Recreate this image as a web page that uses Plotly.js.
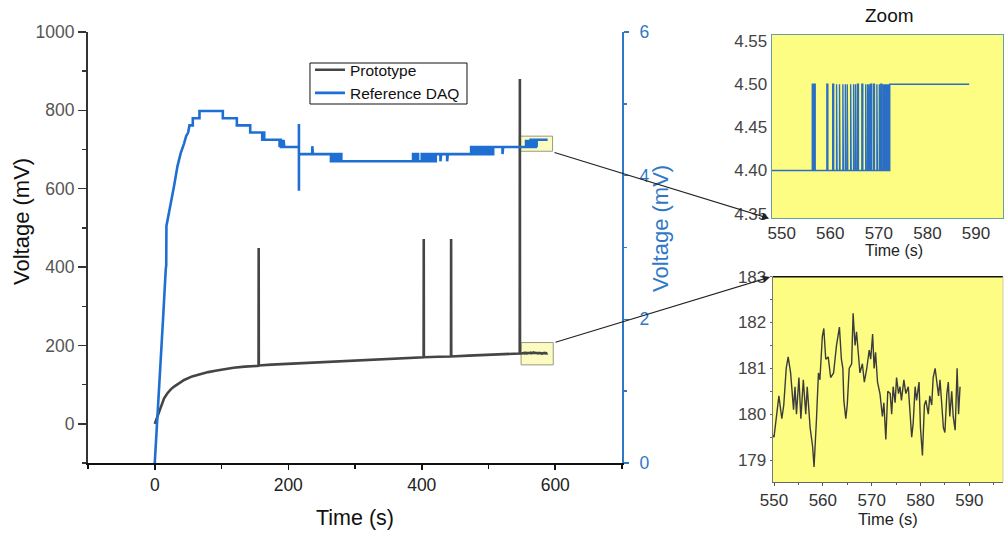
<!DOCTYPE html>
<html>
<head>
<meta charset="utf-8">
<script src="https://cdn.plot.ly/plotly-3.0.1.min.js"></script>
<style>html,body{margin:0;padding:0;background:#fff;}#chart{width:1007px;height:536px;}</style>
</head>
<body>
<div id="chart"></div>
<script>
// ---- Data ----
// Prototype (left axis, mV): [time s, voltage mV]
var prototypePoints = [
  [0,0],[2,10],[4,19],[6.5,31],[9,44],[14,65],[19,78],[24,88],[29,95],[36,104],[44,112],[56,121],
  [69,127],[80,132],[93,136],[105,140],[118,143],[135,146],[155.5,148],[155.7,449],[155.9,149],
  [175,151],[200,153],[230,155],[260,158],[292,161],[320,163],[350,165],[380,168],
  [402.8,170],[403,472],[403.2,170],[425,171],[443.8,172],[444,472],[444.2,172],
  [470,174],[500,176],[525,178],[546.8,179.5],[547,880],[547.2,179.8],
  [550,179.5],[550.5,180.0],[551,180.4],[551.6,179.9],[552,180.2],[552.5,181.0],[552.9,181.25],[553.4,180.9],
  [554,180.1],[554.3,180.6],[554.6,180.0],[555.1,180.8],[555.5,179.9],[556,180.75],[556.5,180.0],[556.8,180.6],
  [557.4,179.7],[557.9,179.3],[558.2,178.85],[558.7,179.9],[559.1,180.9],[559.4,180.75],[559.9,181.7],[560.2,181.87],
  [560.6,181.2],[561.1,181.25],[561.6,180.8],[562.2,180.9],[562.5,181.2],[562.8,181.5],[563.4,181.9],[563.8,181.2],
  [564.1,181.0],[564.3,180.3],[564.7,179.9],[565,180.2],[565.4,181.0],[565.9,181.1],[566.2,182.2],[566.6,181.5],
  [566.9,181.8],[567.3,181.25],[567.6,180.9],[568.1,181.1],[568.5,180.7],[569,181.0],[569.5,181.4],[569.8,181.2],
  [570.2,181.75],[570.5,181.0],[570.8,181.35],[571.2,180.7],[571.7,180.45],[572.2,179.95],[572.5,180.25],[572.9,179.45],
  [573.3,180.5],[573.8,180.45],[574.1,180.0],[574.4,180.6],[574.8,180.25],[575.1,180.8],[575.5,180.45],[575.8,180.6],
  [576.1,180.3],[576.6,180.75],[577,180.45],[577.5,180.6],[577.9,179.9],[578.2,179.5],[578.5,179.8],[578.9,180.6],
  [579.2,180.3],[579.7,180.7],[580,179.7],[580.4,179.1],[580.8,180.2],[581.1,180.3],[581.6,180.0],[581.9,180.4],
  [582.3,180.2],[582.6,180.8],[583,181.0],[583.3,180.75],[583.7,180.4],[584,180.75],[584.3,180.3],[584.7,179.7],
  [585,179.6],[585.4,180.45],[585.7,180.7],[586,179.95],[586.4,180.5],[586.7,179.95],[587.1,179.65],[587.3,180.45],
  [587.5,181.0],[587.8,180.0],[588.1,180.6]
];

// Reference DAQ (right axis, mV): [time s, voltage mV]
var referenceDaqPoints = [
  [0,0],[4,0.6],[8,1.3],[12.4,2.0],[16.5,2.7],[17.2,2.75],[17.5,3.3],[21.4,3.48],[24.9,3.66],[28.8,3.85],
  [34,4.13],[38.8,4.31],[44,4.45],[47,4.55],[50,4.6],[52,4.7],[57,4.7],[57,4.8],[67,4.8],[67,4.9],
  [102,4.9],[102,4.8],[123,4.8],[123,4.7],[143,4.7],[143,4.6],[161,4.6],[161,4.5],[162.5,4.5],[162.5,4.6],
  [164,4.6],[164,4.5],[187,4.5],
  [187,4.4],[188,4.4],[188,4.5],[189,4.5],[189,4.4],[190.5,4.4],[190.5,4.5],[191.5,4.5],[191.5,4.4],
  [193,4.4],[193,4.5],[194,4.5],[194,4.4],
  [216,4.4],[216,4.72],[216,3.79],[216,4.3],
  [236,4.3],[236,4.41],[237,4.41],[237,4.3],
  [264,4.3],[264,4.2],[265.5,4.2],[265.5,4.3],[267,4.3],[267,4.2],[268.5,4.2],[268.5,4.3],[270,4.3],[270,4.2],
  [271.5,4.2],[271.5,4.3],[273,4.3],[273,4.2],[275,4.2],[275,4.3],[276.5,4.3],[276.5,4.2],[278,4.2],[278,4.3],
  [279.5,4.3],[279.5,4.2],
  [387,4.2],[387,4.3],[388.5,4.3],[388.5,4.2],[390,4.2],[390,4.3],[391.5,4.3],[391.5,4.2],[393,4.2],[393,4.3],
  [394.5,4.3],[394.5,4.2],
  [400,4.2],[400,4.3],[401.5,4.3],[401.5,4.2],[403,4.2],[403,4.3],[404.5,4.3],[404.5,4.2],[406,4.2],[406,4.3],
  [407.5,4.3],[407.5,4.2],[409,4.2],[409,4.3],[410.5,4.3],[410.5,4.2],[412,4.2],[412,4.3],[413.5,4.3],[413.5,4.2],
  [415,4.2],[415,4.3],[416.5,4.3],[416.5,4.2],[418,4.2],[418,4.3],[419.5,4.3],[419.5,4.2],[421,4.2],[421,4.3],
  [428,4.3],[428,4.2],[429,4.2],[429,4.3],[438,4.3],[438,4.2],[439,4.2],[439,4.3],
  [474,4.3],[474,4.4],[475.5,4.4],[475.5,4.3],[477,4.3],[477,4.4],[478.5,4.4],[478.5,4.3],[480,4.3],[480,4.4],
  [481.5,4.4],[481.5,4.3],[483,4.3],[483,4.4],[484.5,4.4],[484.5,4.3],[486,4.3],[486,4.4],[487.5,4.4],[487.5,4.3],
  [489,4.3],[489,4.4],[490.5,4.4],[490.5,4.3],[492,4.3],[492,4.4],[493.5,4.4],[493.5,4.3],[495,4.3],[495,4.4],
  [496.5,4.4],[496.5,4.3],[498,4.3],[498,4.4],[499.5,4.4],[499.5,4.3],[501,4.3],[501,4.4],[502.5,4.4],[502.5,4.3],
  [504,4.3],[504,4.4],[505.5,4.4],[505.5,4.3],[507,4.3],[507,4.4],
  [521,4.4],[521,4.3],[522,4.3],[522,4.4],
  [556.3,4.4],[556.3,4.5],[556.5,4.5],[556.5,4.4],[556.7,4.4],[556.7,4.5],[556.9,4.5],[556.9,4.4],
  [559.3,4.4],[559.3,4.5],[559.5,4.5],[559.5,4.4],[560.5,4.4],[560.5,4.5],[560.7,4.5],[560.7,4.4],
  [561.3,4.4],[561.3,4.5],[561.4,4.5],[561.4,4.4],[561.9,4.4],[561.9,4.5],[562.0,4.5],[562.0,4.4],
  [562.6,4.4],[562.6,4.5],[562.7,4.5],[562.7,4.4],[563.1,4.4],[563.1,4.5],[563.2,4.5],[563.2,4.4],
  [563.5,4.4],[563.5,4.5],[563.6,4.5],[563.6,4.4],[564.2,4.4],[564.2,4.5],[564.3,4.5],[564.3,4.4],
  [564.8,4.4],[564.8,4.5],[564.9,4.5],[564.9,4.4],[565.2,4.4],[565.2,4.5],[565.3,4.5],[565.3,4.4],
  [565.6,4.4],[565.6,4.5],[565.8,4.5],[565.8,4.4],[566.5,4.4],[566.5,4.5],[566.7,4.5],[566.7,4.4],
  [567.3,4.4],[567.3,4.5],[567.4,4.5],[567.4,4.4],[567.7,4.4],[567.7,4.5],[567.8,4.5],[567.8,4.4],
  [568.0,4.4],[568.0,4.5],[568.1,4.5],[568.1,4.4],[568.3,4.4],[568.3,4.5],[568.5,4.5],[568.5,4.4],
  [568.9,4.4],[568.9,4.5],[569.1,4.5],[569.1,4.4],[569.6,4.4],[569.6,4.5],[569.7,4.5],[569.7,4.4],
  [570.1,4.4],[570.1,4.5],[570.2,4.5],[570.2,4.4],[570.4,4.4],[570.4,4.5],[570.6,4.5],[570.6,4.4],
  [570.9,4.4],[570.9,4.5],[571.0,4.5],[571.0,4.4],[571.15,4.4],[571.15,4.5],[571.25,4.5],[571.25,4.4],
  [571.4,4.4],[571.4,4.5],[571.5,4.5],[571.5,4.4],[571.6,4.4],[571.6,4.5],[571.7,4.5],[571.7,4.4],
  [571.8,4.4],[571.8,4.5],[571.9,4.5],[571.9,4.4],[572.0,4.4],[572.0,4.5],[572.1,4.5],[572.1,4.4],
  [572.25,4.4],[572.25,4.5],[588.6,4.5]
];

var seriesNames = ['Prototype', 'Reference DAQ'];
var axisTitles = ['Time (s)', 'Voltage (mV)', 'Voltage (mV)', 'Zoom'];
var mainXTicks = [0, 200, 400, 600];
var leftYTicks = [0, 200, 400, 600, 800, 1000];
var rightYTicks = [0, 2, 4, 6];
var zoomXTicks = [550, 560, 570, 580, 590];
var zoomDaqTicks = [4.35, 4.40, 4.45, 4.50, 4.55];
var zoomProtoTicks = [179, 180, 181, 182, 183];

// ---- Styling ----
var GRAY = '#454545', BLUE = '#1f6fd3', AXBLUE = '#2f78c6';
var FONT = 'Liberation Sans, Arial, Helvetica, sans-serif';
function xs(p){ return p.map(function(d){return d[0];}); }
function ys(p){ return p.map(function(d){return d[1];}); }

var traces = [
  {x: xs(prototypePoints), y: ys(prototypePoints), name: seriesNames[0], type:'scatter', mode:'lines',
   xaxis:'x', yaxis:'y', line:{color:GRAY, width:2.6}},
  {x: xs(referenceDaqPoints), y: ys(referenceDaqPoints), name: seriesNames[1], type:'scatter', mode:'lines',
   xaxis:'x', yaxis:'y2', line:{color:BLUE, width:2.6}},
  {x: xs(referenceDaqPoints), y: ys(referenceDaqPoints), showlegend:false, type:'scatter', mode:'lines',
   xaxis:'x3', yaxis:'y3', line:{color:'#2a6fc4', width:1.4}},
  {x: xs(prototypePoints), y: ys(prototypePoints), showlegend:false, type:'scatter', mode:'lines',
   xaxis:'x4', yaxis:'y4', line:{color:'#3c3c3c', width:1.4}}
];

// plot area spans x 88..1003, y 32..482
var layout = {
  width: 1007, height: 536,
  margin: {l: 88, r: 4, t: 32, b: 54},
  paper_bgcolor: '#ffffff', plot_bgcolor: 'rgba(0,0,0,0)',
  font: {family: FONT, size: 17, color: '#555'},
  showlegend: true,
  legend: {x: 0.2426, y: 0.953, xanchor: 'left', yanchor: 'top', bgcolor: 'rgba(0,0,0,0)',
           borderwidth: 0, font: {size: 15.5, color: '#111'}, tracegroupgap: 0},
  xaxis: {domain: [0, 0.5836], anchor: 'y', range: [-100, 700], tickvals: mainXTicks,
          ticks: 'outside', ticklen: 5, tickwidth: 1.5, tickcolor: '#111',
          showline: true, linecolor: '#111', linewidth: 2, showgrid: false, zeroline: false,
          minor: {tickvals: [-100, 100, 300, 500, 700], ticks: 'outside', ticklen: 4, tickcolor: '#111', showgrid: false},
          tickfont: {size: 17.5, color: '#222'},
          title: {text: axisTitles[0], font: {size: 21.5, color: '#111'}, standoff: 16}},
  yaxis: {domain: [0.0422, 1], anchor: 'x', range: [-100, 1000], tickvals: leftYTicks,
          ticks: 'outside', ticklen: 8, tickwidth: 1.5, tickcolor: '#333',
          showline: true, linecolor: '#333', linewidth: 2, showgrid: false, zeroline: false,
          minor: {tickvals: [-100, 100, 300, 500, 700, 900], ticks: 'outside', ticklen: 4, tickcolor: '#333', showgrid: false},
          tickfont: {size: 17.5, color: '#555'}},
  yaxis2: {overlaying: 'y', side: 'right', anchor: 'x', range: [0, 6], tickmode: 'array', tickvals: rightYTicks,
           ticktext: rightYTicks.map(function(v){ return '\u2009\u2009' + v; }),
           ticks: 'outside', ticklen: 5, tickwidth: 1.5, tickcolor: AXBLUE,
           showline: true, linecolor: AXBLUE, linewidth: 2, showgrid: false, zeroline: false,
           minor: {tickvals: [1, 3, 5], ticks: 'outside', ticklen: 3, tickcolor: AXBLUE, showgrid: false},
           tickfont: {size: 17.5, color: AXBLUE}},
  xaxis3: {domain: [0.7472, 1], anchor: 'y3', range: [547.94, 595.56], tickvals: zoomXTicks,
           ticks: '', showline: true, mirror: true, linecolor: '#6a9ea6', linewidth: 1, showgrid: false, zeroline: false,
           tickfont: {size: 17, color: '#333'}},
  yaxis3: {domain: [0.5867, 0.9933], anchor: 'x3', range: [4.345, 4.557], tickvals: zoomDaqTicks, tickformat: '.2f',
           ticks: '', showline: true, mirror: true, linecolor: '#6a9ea6', linewidth: 1, showgrid: false, zeroline: false,
           tickfont: {size: 17, color: '#444'}},
  xaxis4: {domain: [0.7483, 1], anchor: 'y4', range: [549.73, 596.9], tickvals: zoomXTicks,
           ticks: 'outside', ticklen: 3, tickcolor: '#555', showline: true, linecolor: '#666', linewidth: 1,
           showgrid: false, zeroline: false,
           minor: {tickvals: [555, 565, 575, 585, 595], ticks: 'outside', ticklen: 2, tickcolor: '#555', showgrid: false},
           tickfont: {size: 17, color: '#333'},
           title: {text: axisTitles[0], font: {size: 16.5, color: '#222'}, standoff: 4}},
  yaxis4: {domain: [0, 0.4562], anchor: 'x4', range: [178.52, 183], tickvals: zoomProtoTicks,
           ticks: 'outside', ticklen: 2, tickcolor: '#666', showline: true, linecolor: '#777', linewidth: 1,
           showgrid: false, zeroline: false,
           minor: {tickvals: [179.5, 180.5, 181.5, 182.5], ticks: 'outside', ticklen: 2, tickcolor: '#666', showgrid: false},
           tickfont: {size: 17, color: '#444'}},
  shapes: [
    {type: 'rect', xref: 'x3 domain', yref: 'y3 domain', x0: 0, x1: 1, y0: 0, y1: 1,
     fillcolor: '#fdfd84', line: {width: 0}, layer: 'below'},
    {type: 'rect', xref: 'x4 domain', yref: 'y4 domain', x0: 0, x1: 1, y0: 0, y1: 1,
     fillcolor: '#fdfd84', line: {width: 0}, layer: 'below'},
    {type: 'line', xref: 'x4 domain', yref: 'y4 domain', x0: 0, x1: 1, y0: 1, y1: 1,
     line: {color: '#111', width: 1.5}},
    {type: 'line', xref: 'x4 domain', yref: 'y4 domain', x0: 1, x1: 1, y0: 0, y1: 1,
     line: {color: '#cfcfa0', width: 1}},
    {type: 'rect', xref: 'x', yref: 'y2', x0: 546.3, x1: 596, y0: 4.34, y1: 4.55,
     fillcolor: '#fbfbc2', line: {color: '#9a9a80', width: 1}, layer: 'below'},
    {type: 'rect', xref: 'x', yref: 'y', x0: 548.8, x1: 597, y0: 150.5, y1: 207.4,
     fillcolor: '#fbfbc2', line: {color: '#9a9a80', width: 1}, layer: 'below'},
    // legend frame
    {type: 'rect', xref: 'paper', yref: 'paper', x0: 0.2426, x1: 0.4142, y0: 0.84, y1: 0.9311,
     fillcolor: 'rgba(0,0,0,0)', line: {color: '#111', width: 1}}
  ],
  annotations: [
    {xref: 'paper', yref: 'paper', x: 0.8765, y: 1.036, text: axisTitles[3], showarrow: false,
     font: {size: 19, color: '#111'}, xanchor: 'center', yanchor: 'middle'},
    {xref: 'paper', yref: 'paper', x: 0.8806, y: 0.5145, text: axisTitles[0], showarrow: false,
     font: {size: 16, color: '#222'}, xanchor: 'center', yanchor: 'middle'},
    {xref: 'paper', yref: 'paper', x: -0.0721, y: 0.5778, text: axisTitles[1], showarrow: false, textangle: -90,
     font: {size: 22, color: '#111'}, xanchor: 'center', yanchor: 'middle'},
    {xref: 'paper', yref: 'paper', x: 0.6251, y: 0.5644, text: axisTitles[2], showarrow: false, textangle: -90,
     font: {size: 22, color: AXBLUE}, xanchor: 'center', yanchor: 'middle'},
    {xref: 'paper', yref: 'paper', axref: 'paper', ayref: 'paper', x: 0.7445, y: 0.5855, ax: 0.5082, ay: 0.7333,
     text: '', showarrow: true, arrowhead: 2, arrowsize: 1.2, arrowwidth: 1.2, arrowcolor: '#222'},
    {xref: 'paper', yref: 'paper', axref: 'paper', ayref: 'paper', x: 0.7455, y: 0.4556, ax: 0.5093, ay: 0.3096,
     text: '', showarrow: true, arrowhead: 2, arrowsize: 1.2, arrowwidth: 1.2, arrowcolor: '#222'}
  ]
};

Plotly.newPlot('chart', traces, layout, {displayModeBar: false, staticPlot: true});
</script>
</body>
</html>
